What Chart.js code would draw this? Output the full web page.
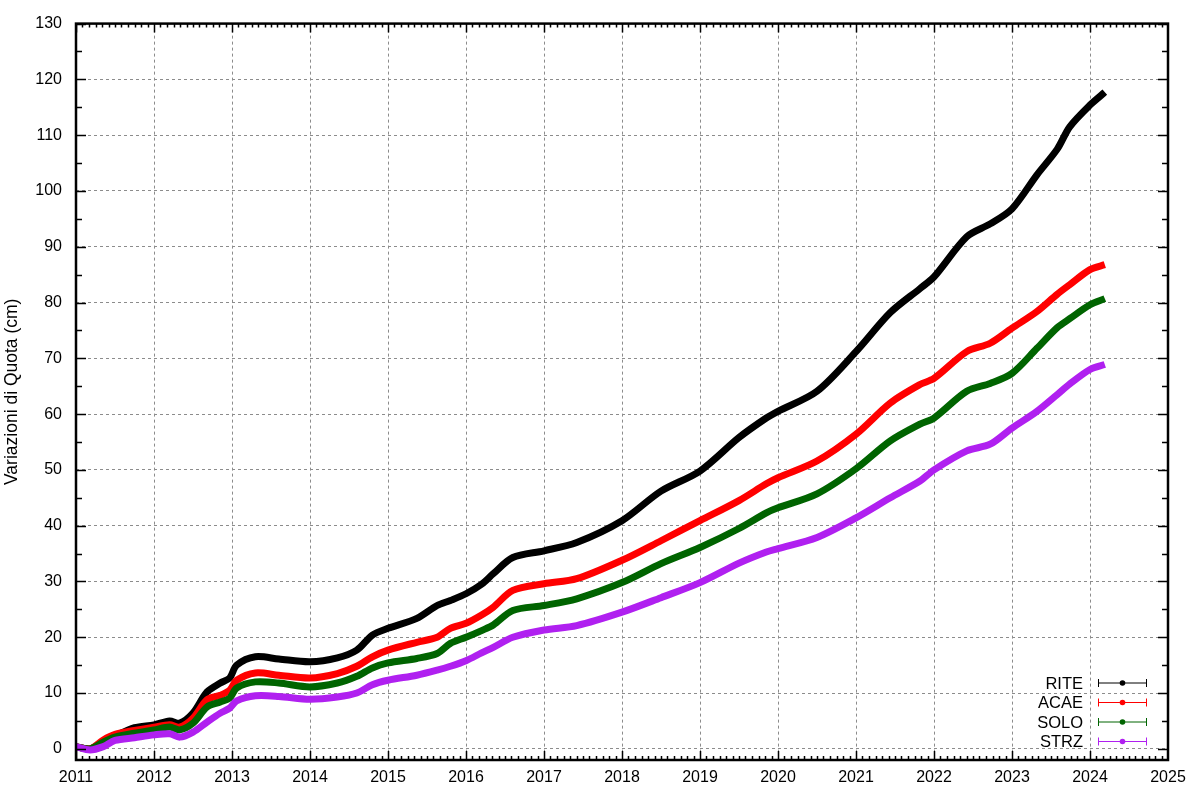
<!DOCTYPE html>
<html>
<head>
<meta charset="utf-8">
<script src="https://cdn.jsdelivr.net/npm/chart.js@4"></script>
<style>
  body { margin: 0; background: #fff; }
</style>
</head>
<body>
<canvas id="chart" width="1200" height="800"></canvas>
<script>
// decimal years of the sampled points
const dates = [2011.0, 2011.18, 2011.35, 2011.5, 2011.75, 2012.0, 2012.2, 2012.33, 2012.5, 2012.68,
  2012.85, 2012.97, 2013.06, 2013.3, 2013.6, 2014.0, 2014.35, 2014.6, 2014.8, 2015.0,
  2015.37, 2015.63, 2015.8, 2016.0, 2016.2, 2016.35, 2016.6, 2017.0, 2017.42, 2018.0,
  2018.5, 2019.0, 2019.5, 2019.85, 2020.0, 2020.5, 2021.0, 2021.44, 2021.82, 2022.0,
  2022.42, 2022.72, 2023.0, 2023.32, 2023.58, 2023.74, 2024.0, 2024.19];

const rite = [0.4, 0.0, 1.2, 2.3, 3.8, 4.3, 5.0, 4.6, 6.4, 10.2,
  11.8, 12.7, 15.0, 16.5, 16.1, 15.6, 16.3, 17.7, 20.4, 21.6,
  23.4, 25.7, 26.6, 27.8, 29.5, 31.4, 34.3, 35.5, 37.0, 40.9,
  46.2, 49.8, 55.8, 59.3, 60.5, 64.1, 71.2, 78.2, 82.5, 84.6,
  91.8, 94.1, 96.8, 102.9, 107.5, 111.5, 115.4, 117.7];

const acae = [0.4, 0.0, 1.6, 2.6, 3.3, 3.9, 4.3, 3.9, 5.5, 8.8,
  9.6, 10.5, 12.3, 13.6, 13.2, 12.7, 13.5, 14.8, 16.5, 17.7,
  19.1, 20.0, 21.6, 22.5, 24.0, 25.4, 28.4, 29.6, 30.5, 33.8,
  37.3, 40.9, 44.5, 47.5, 48.6, 51.6, 56.4, 62.0, 65.3, 66.4,
  71.2, 72.7, 75.4, 78.4, 81.5, 83.2, 85.9, 86.8];

const solo = [0.4, 0.0, 1.2, 2.1, 2.8, 3.4, 3.9, 3.4, 4.6, 7.5,
  8.4, 9.1, 10.9, 12.0, 11.8, 11.1, 11.8, 13.0, 14.5, 15.4,
  16.2, 17.1, 18.9, 20.0, 21.2, 22.2, 24.8, 25.7, 26.9, 29.8,
  33.2, 36.1, 39.5, 42.3, 43.2, 45.7, 50.2, 55.2, 58.2, 59.3,
  64.1, 65.5, 67.3, 71.8, 75.5, 77.1, 79.6, 80.7];

const strz = [0.4, -0.2, 0.4, 1.5, 2.0, 2.5, 2.7, 2.1, 3.0, 4.8,
  6.4, 7.3, 8.6, 9.5, 9.4, 8.9, 9.3, 10.0, 11.5, 12.3,
  13.2, 14.1, 14.8, 15.8, 17.2, 18.2, 20.0, 21.3, 22.1, 24.5,
  27.1, 29.8, 33.3, 35.3, 35.9, 37.9, 41.4, 45.0, 48.0, 50.0,
  53.4, 54.6, 57.5, 60.5, 63.5, 65.4, 68.0, 68.9];

const seriesNames = ['RITE', 'ACAE', 'SOLO', 'STRZ'];
const seriesValues = [rite, acae, solo, strz];
const seriesColors = ['#000000', '#ff0000', '#006400', '#b020f0'];

const yTicks = [0, 10, 20, 30, 40, 50, 60, 70, 80, 90, 100, 110, 120, 130];
const xTicks = [2011, 2012, 2013, 2014, 2015, 2016, 2017, 2018, 2019, 2020, 2021, 2022, 2023, 2024, 2025];

const FONT = '"Liberation Sans", Arial, sans-serif';

// frame, inward ticks on all four sides and the key in the bottom right corner
const framePlugin = {
  id: 'frame',
  afterDraw(chart) {
    const { ctx, chartArea: a, scales: { x, y } } = chart;
    ctx.save();
    ctx.strokeStyle = '#000';
    ctx.lineWidth = 1.5;
    ctx.beginPath();
    for (let yr = 2011; yr < 2025; yr++) {
      for (let m = 0; m < 12; m++) {
        const px = Math.round(x.getPixelForValue(yr + m / 12)) + 0.5;
        const len = m === 0 ? 9 : 4;
        ctx.moveTo(px, a.bottom); ctx.lineTo(px, a.bottom - len);
        ctx.moveTo(px, a.top); ctx.lineTo(px, a.top + len);
      }
    }
    for (let v = 0; v <= 130; v += 5) {
      const py = Math.round(y.getPixelForValue(v)) + 0.5;
      const len = v % 10 === 0 ? 10 : 6;
      ctx.moveTo(a.left, py); ctx.lineTo(a.left + len, py);
      ctx.moveTo(a.right, py); ctx.lineTo(a.right - len, py);
    }
    ctx.stroke();

    ctx.lineWidth = 2.5;
    ctx.strokeRect(a.left, a.top, a.right - a.left, a.bottom - a.top);

    // key
    ctx.font = '16.5px ' + FONT;
    ctx.textAlign = 'right';
    ctx.textBaseline = 'middle';
    chart.data.datasets.forEach((ds, i) => {
      const ky = a.bottom - 77 + i * 19.5;
      ctx.fillStyle = '#000';
      ctx.fillText(ds.label, a.right - 85, ky + 1);
      const x1 = a.right - 70, x2 = a.right - 21;
      ctx.strokeStyle = ds.borderColor;
      ctx.fillStyle = ds.borderColor;
      ctx.lineWidth = 1;
      ctx.beginPath();
      ctx.moveTo(x1, ky); ctx.lineTo(x2, ky);
      ctx.moveTo(x1 + 0.5, ky - 4); ctx.lineTo(x1 + 0.5, ky + 4);
      ctx.moveTo(x2 - 0.5, ky - 4); ctx.lineTo(x2 - 0.5, ky + 4);
      ctx.stroke();
      ctx.beginPath();
      ctx.arc((x1 + x2) / 2, ky, 2.8, 0, Math.PI * 2);
      ctx.fill();
    });
    ctx.restore();
  }
};

const datasets = seriesNames.map((name, i) => ({
  label: name,
  data: dates.map((d, j) => ({ x: d, y: seriesValues[i][j] })),
  borderColor: seriesColors[i],
  backgroundColor: seriesColors[i],
  borderWidth: 7,
  pointRadius: 0,
  tension: 0.3,
  order: seriesNames.length - i
}));

new Chart(document.getElementById('chart'), {
  type: 'line',
  data: { datasets: datasets },
  options: {
    responsive: false,
    animation: false,
    layout: { padding: { top: 21, right: 32, left: 0, bottom: 0 } },
    plugins: {
      legend: { display: false },
      tooltip: { enabled: false }
    },
    scales: {
      x: {
        type: 'linear',
        min: xTicks[0],
        max: xTicks[xTicks.length - 1],
        afterFit: s => { s.height = 40; },
        afterBuildTicks: s => { s.ticks = xTicks.map(v => ({ value: v })); },
        ticks: {
          padding: 8,
          color: '#000',
          font: { family: FONT, size: 16 },
          maxRotation: 0,
          autoSkip: false,
          callback: v => String(v)
        },
        grid: { color: '#8c8c8c', lineWidth: 1, drawTicks: false },
        border: { display: false, dash: [3, 3] }
      },
      y: {
        min: -2,
        max: 130,
        afterFit: s => { s.width = 76; },
        afterBuildTicks: s => { s.ticks = yTicks.map(v => ({ value: v })); },
        ticks: {
          padding: 14,
          color: '#000',
          autoSkip: false,
          font: { family: FONT, size: 16 }
        },
        grid: { color: '#8c8c8c', lineWidth: 1, drawTicks: false },
        border: { display: false, dash: [3, 3] },
        title: {
          display: true,
          text: 'Variazioni di Quota (cm)',
          color: '#000',
          font: { family: FONT, size: 17.5 },
          padding: { top: 2, bottom: 0 }
        }
      }
    }
  },
  plugins: [framePlugin]
});
</script>
</body>
</html>
